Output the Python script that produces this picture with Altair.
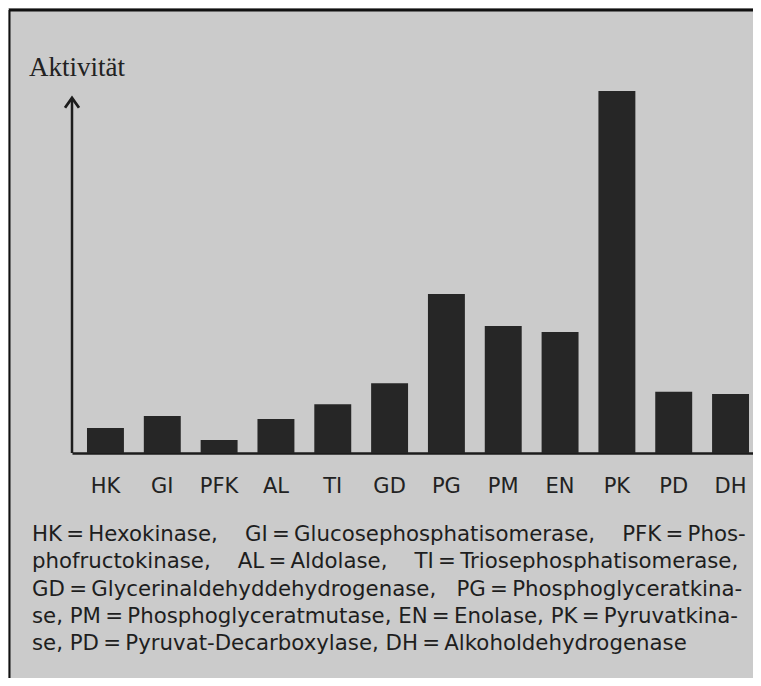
import altair as alt
import pandas as pd

# ---- data (relative activity, PK = 100) ----
enzymes = ["HK", "GI", "PFK", "AL", "TI", "GD", "PG", "PM", "EN", "PK", "PD", "DH"]
activity = [6.9, 10.2, 3.6, 9.4, 13.5, 19.3, 43.9, 35.1, 33.4, 100.0, 16.9, 16.3]

y_title = "Aktivität"

NB = "\u00a0"
TH = "\u2009"
EQ = TH + "=" + TH
legend_lines = [
    "HK" + EQ + "Hexokinase," + NB * 4 + "GI" + EQ + "Glucosephosphatisomerase," + NB * 4 + "PFK" + EQ + "Phos-",
    "phofructokinase," + NB * 4 + "AL" + EQ + "Aldolase," + NB * 4 + "TI" + EQ + "Triosephosphatisomerase,",
    "GD" + EQ + "Glycerinaldehyddehydrogenase," + NB * 3 + "PG" + EQ + "Phosphoglyceratkina-",
    "se," + NB + "PM" + EQ + "Phosphoglyceratmutase," + NB + "EN" + EQ + "Enolase," + NB + "PK" + EQ + "Pyruvatkina-",
    "se," + NB + "PD" + EQ + "Pyruvat-Decarboxylase," + NB + "DH" + EQ + "Alkoholdehydrogenase",
]

df = pd.DataFrame({"enzyme": enzymes, "activity": activity})
one = pd.DataFrame({"d": [0]})

W, H = 681, 362
INK = "#1c1c1c"

bars = alt.Chart(df).mark_bar(color="#262626").encode(
    x=alt.X(
        "enzyme:N",
        sort=enzymes,
        scale=alt.Scale(paddingInner=0.35, paddingOuter=0.167, align=0.79),
        axis=alt.Axis(
            title=None,
            labelAngle=0,
            ticks=False,
            grid=False,
            domainColor=INK,
            domainWidth=2.5,
            labelFont="DejaVu Sans",
            labelFontSize=21,
            labelColor="#222222",
            labelBaseline="alphabetic",
            labelPadding=39,
        ),
    ),
    y=alt.Y("activity:Q", scale=alt.Scale(domain=[0, 100], nice=False), axis=None),
)

y_axis = alt.Chart(one).mark_rule(color=INK, strokeWidth=2.5).encode(
    x=alt.value(0), y=alt.value(7), y2=alt.value(H)
)

arrow = alt.Chart(one).mark_point(
    shape="M-1,1.4L0,0L1,1.4",
    filled=False,
    stroke=INK,
    strokeWidth=2.8,
    size=196,
    opacity=1,
    strokeJoin="miter",
).encode(x=alt.value(0), y=alt.value(7))

title = alt.Chart(pd.DataFrame({"t": [y_title]})).mark_text(
    font="Liberation Serif", fontSize=27, color="#222222", align="left", baseline="alphabetic"
).encode(text="t:N", x=alt.value(-43), y=alt.value(-15))

legend = alt.Chart(pd.DataFrame({"t": ["\n".join(legend_lines)]})).mark_text(
    font="DejaVu Sans",
    fontSize=21.3,
    color="#1e1e1e",
    align="left",
    baseline="alphabetic",
    lineBreak="\n",
    lineHeight=27.3,
).encode(text="t:N", x=alt.value(-40), y=alt.value(450))

top_border = alt.Chart(one).mark_rule(color="#111111", strokeWidth=3).encode(
    x=alt.value(-63), x2=alt.value(W), y=alt.value(-81)
)
left_border = alt.Chart(one).mark_rule(color="#111111", strokeWidth=2).encode(
    x=alt.value(-62.5), y=alt.value(-81), y2=alt.value(590)
)

chart = (
    alt.layer(bars, y_axis, arrow, title, legend, top_border, left_border)
    .properties(
        width=W,
        height=H,
        autosize=alt.AutoSizeParams(type="none"),
        padding={"left": 64, "top": 83, "right": 0, "bottom": 225},
        background="#cbcbcb",
    )
    .configure_view(stroke=None)
)

chart.save("out.html", embed_options={"renderer": "svg", "actions": False})
